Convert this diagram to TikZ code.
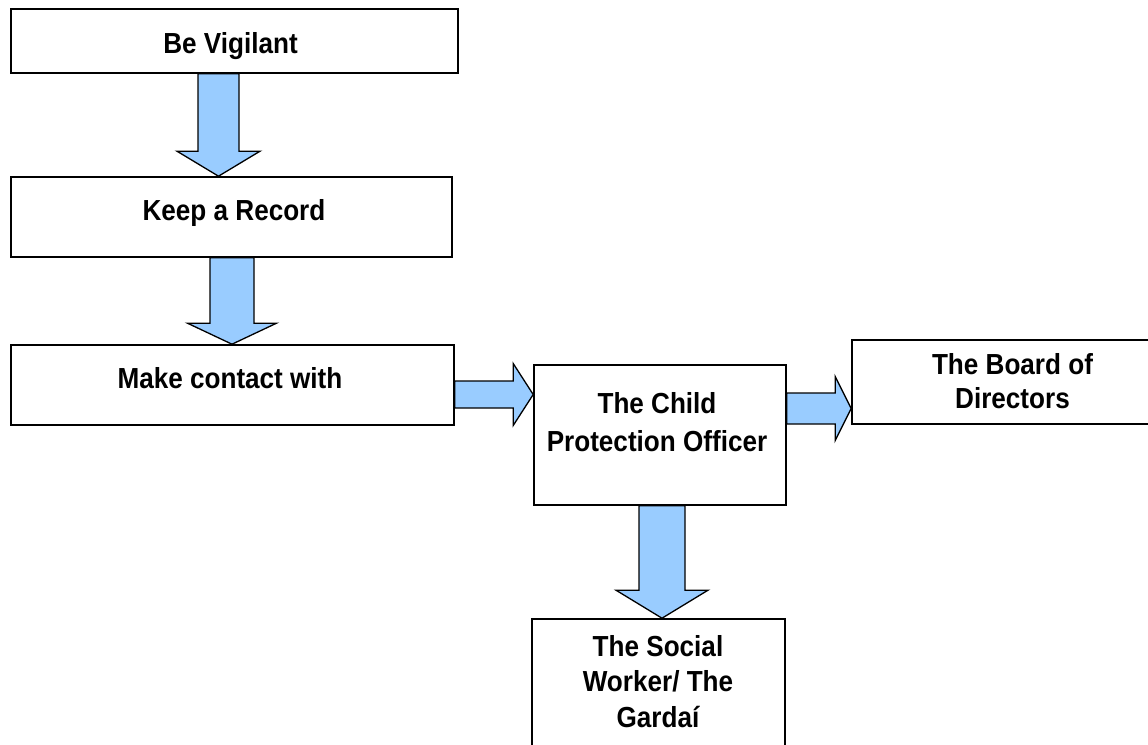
\documentclass[tikz,border=0pt]{standalone}
\usepackage{fontspec}
\setmainfont{Liberation Sans}[FakeStretch=0.9]
\usetikzlibrary{calc}
\definecolor{arrowblue}{RGB}{153,204,255}

% block arrows: start, end, shaft half width, head half width, head length
\newcommand{\downblock}[5]{%
  \draw[blockarrow] let \p1=(#1), \p2=(#2) in
    (\x1-#3bp,\y1) -- (\x1-#3bp,\y2+#5bp) -- (\x1-#4bp,\y2+#5bp) -- (\x1,\y2)
    -- (\x1+#4bp,\y2+#5bp) -- (\x1+#3bp,\y2+#5bp) -- (\x1+#3bp,\y1) -- cycle;}
\newcommand{\rightblock}[5]{%
  \draw[blockarrow] let \p1=(#1), \p2=(#2) in
    (\x1,\y1+#3bp) -- (\x2-#5bp,\y1+#3bp) -- (\x2-#5bp,\y1+#4bp) -- (\x2,\y1)
    -- (\x2-#5bp,\y1-#4bp) -- (\x2-#5bp,\y1-#3bp) -- (\x1,\y1-#3bp) -- cycle;}

\tikzset{
  box/.style={draw, line width=1.6bp, inner sep=0pt, fill=white},
  boxtext/.style={anchor=north, inner sep=0pt, align=center,
    font=\fontsize{29bp}{36bp}\selectfont\bfseries},
  blockarrow/.style={draw, fill=arrowblue, line width=1.3bp, line join=miter}
}

\begin{document}
\begin{tikzpicture}[x=1bp, y=-1bp]
  \clip (0,0) rectangle (1148,745);
  \fill[white] (0,0) rectangle (1148,745);

  % boxes
  \node[box, minimum width=447bp, minimum height=64bp] (vig) at (234.5,41) {};
  \node[box, minimum width=441bp, minimum height=80bp] (keep) at (231.5,217) {};
  \node[box, minimum width=443bp, minimum height=80bp] (contact) at (232.5,385) {};
  \node[box, minimum width=252bp, minimum height=140bp] (cpo) at (660,435) {};
  \node[box, minimum width=308bp, minimum height=84bp] (board) at (1006,382) {};
  \node[box, minimum width=253bp, minimum height=150bp] (social) at (658.5,694) {};

  % texts
  \node[boxtext] (vig-t) at (230.5,32) {Be Vigilant};
  \node[boxtext] (keep-t) at (234,199) {Keep a Record};
  \node[boxtext] (contact-t) at (230,367) {Make contact with};
  \node[boxtext, font=\fontsize{29bp}{38.5bp}\selectfont\bfseries] (cpo-t) at (657,392)
    {The Child\\Protection Officer};
  \node[boxtext, font=\fontsize{29bp}{34bp}\selectfont\bfseries] (board-t) at (1012.5,353)
    {The Board of\\Directors};
  \node[boxtext, font=\fontsize{29bp}{35.5bp}\selectfont\bfseries] (social-t) at (658,635)
    {The Social\\Worker/ The\\Gardaí};

  % arrows
  \coordinate (a1) at ([xshift=-16bp]vig.south);
  \coordinate (a2) at ([xshift=0.5bp]keep.south);
  \coordinate (a3) at ([yshift=-9.5bp]contact.east);
  \coordinate (a4) at ([yshift=26.5bp]cpo.east);
  \coordinate (a5) at ([xshift=2bp]cpo.south);
  \downblock{a1}{a1 |- keep.north}{20.5}{41.5}{25}
  \downblock{a2}{a2 |- contact.north}{22}{44.5}{21}
  \rightblock{a3}{a3 -| cpo.west}{13.5}{31}{20}
  \rightblock{a4}{a4 -| board.west}{15.5}{32}{16}
  \downblock{a5}{a5 |- social.north}{23}{46}{28}
\end{tikzpicture}
\end{document}
